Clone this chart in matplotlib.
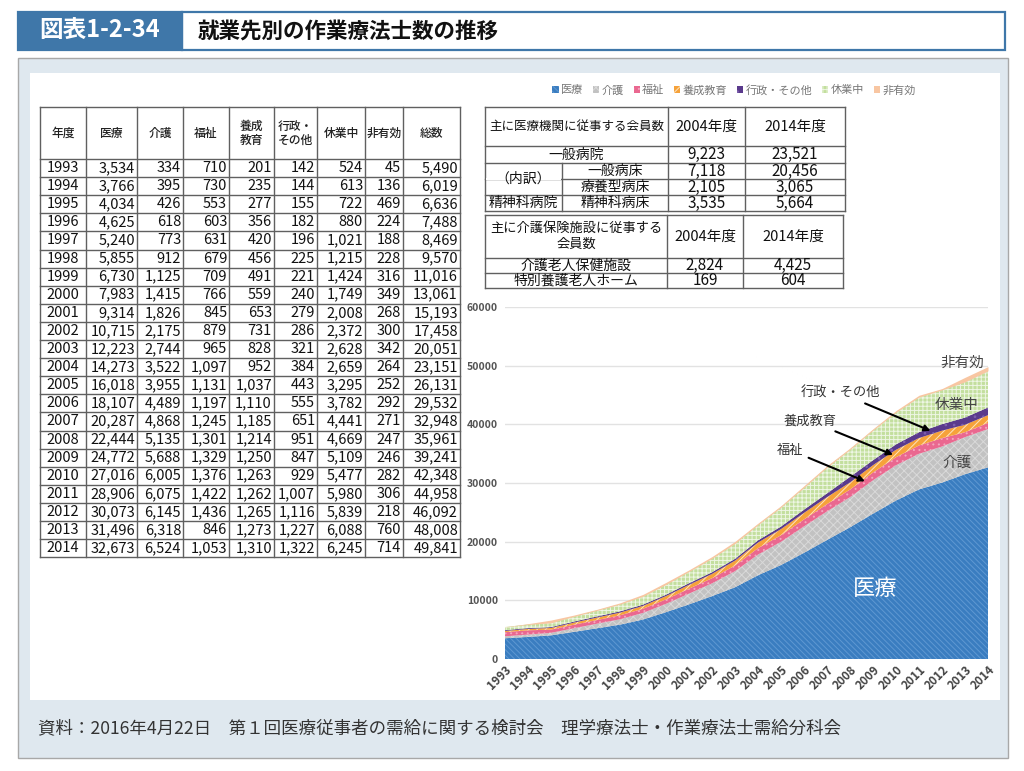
import matplotlib
matplotlib.use("Agg")
import matplotlib.pyplot as plt
from matplotlib.patches import Rectangle
import numpy as np

plt.rcParams['font.family'] = ['Noto Sans CJK JP', 'DejaVu Sans']
plt.rcParams['hatch.linewidth'] = 0.7

# ---------------- data ----------------
years = [1993, 1994, 1995, 1996, 1997, 1998, 1999, 2000, 2001, 2002, 2003,
         2004, 2005, 2006, 2007, 2008, 2009, 2010, 2011, 2012, 2013, 2014]
iryo = [3534, 3766, 4034, 4625, 5240, 5855, 6730, 7983, 9314, 10715, 12223,
        14273, 16018, 18107, 20287, 22444, 24772, 27016, 28906, 30073, 31496, 32673]
kaigo = [334, 395, 426, 618, 773, 912, 1125, 1415, 1826, 2175, 2744,
         3522, 3955, 4489, 4868, 5135, 5688, 6005, 6075, 6145, 6318, 6524]
fukushi = [710, 730, 553, 603, 631, 679, 709, 766, 845, 879, 965,
           1097, 1131, 1197, 1245, 1301, 1329, 1376, 1422, 1436, 846, 1053]
yosei = [201, 235, 277, 356, 420, 456, 491, 559, 653, 731, 828,
         952, 1037, 1110, 1185, 1214, 1250, 1263, 1262, 1265, 1273, 1310]
gyosei = [142, 144, 155, 182, 196, 225, 221, 240, 279, 286, 321,
          384, 443, 555, 651, 951, 847, 929, 1007, 1116, 1227, 1322]
kyugyo = [524, 613, 722, 880, 1021, 1215, 1424, 1749, 2008, 2372, 2628,
          2659, 3295, 3782, 4441, 4669, 5109, 5477, 5980, 5839, 6088, 6245]
hiyuko = [45, 136, 469, 224, 188, 228, 316, 349, 268, 300, 342,
          264, 252, 292, 271, 247, 246, 282, 306, 218, 760, 714]
sosu = [5490, 6019, 6636, 7488, 8469, 9570, 11016, 13061, 15193, 17458, 20051,
        23151, 26131, 29532, 32948, 35961, 39241, 42348, 44958, 46092, 48008, 49841]

series_names = ['医療', '介護', '福祉', '養成教育', '行政・その他', '休業中', '非有効']
table_headers = ['年度', '医療', '介護', '福祉', '養成\n教育', '行政・\nその他', '休業中', '非有効', '総数']

hosp_header = ['主に医療機関に従事する会員数', '2004年度', '2014年度']
hosp_rows = ['一般病院', '一般病床', '療養型病床', '精神科病床']
hosp_group = ['（内訳）', '精神科病院']
hosp_2004 = [9223, 7118, 2105, 3535]
hosp_2014 = [23521, 20456, 3065, 5664]

care_header = ['主に介護保険施設に従事する\n会員数', '2004年度', '2014年度']
care_rows = ['介護老人保健施設', '特別養護老人ホーム']
care_2004 = [2824, 169]
care_2014 = [4425, 604]

title_no = '図表1-2-34'
title = '就業先別の作業療法士数の推移'
source = '資料：2016年4月22日　第１回医療従事者の需給に関する検討会　理学療法士・作業療法士需給分科会'

# ---------------- styles ----------------
face = ['#3a7dc0', '#c2c2c2', '#ea6890', '#f6a23a', '#5a3a8c', '#c3df9e', '#f8c6a2']
hatch_col = ['#5f98d2', '#d9d9d9', '#f4a6bf', '#fde3bf', '#7d5fae', '#eef6e4', '#f8c6a2']
hatches = ['\\\\\\\\\\\\', 'xxxx', '...', '////', '..', '++++', None]

W, H = 1024, 771
fig = plt.figure(figsize=(W / 100, H / 100), dpi=100)
lay = fig.add_axes([0, 0, 1, 1])
lay.set_xlim(0, W)
lay.set_ylim(H, 0)
lay.axis('off')

# background panels
lay.add_patch(Rectangle((18, 58), 990, 700, fc='#dfe8ef', ec='#a8a8a8', lw=1))
lay.add_patch(Rectangle((30, 73), 970, 627, fc='white', ec='none'))
# title bar
lay.add_patch(Rectangle((182, 12), 823, 38, fc='white', ec='#3f77a9', lw=1.6))
lay.add_patch(Rectangle((18, 12), 164, 38, fc='#3f77a9', ec='#3f77a9', lw=1.6))
lay.text(100, 31, title_no, color='white', fontsize=17, fontweight='bold', ha='center', va='center')
lay.text(198, 31, title, color='#111', fontsize=15.5, fontweight='bold', ha='left', va='center')
lay.text(38, 728, source, color='#333', fontsize=12.6, ha='left', va='center')

# ---------------- left table ----------------
lc = '#606060'
col_w = [46, 51, 46, 46, 45, 43, 48, 38, 57]
tx0, ty0 = 40, 107
head_h, row_h = 52, 18.1
col_edges = np.concatenate([[tx0], tx0 + np.cumsum(col_w)])
nrows = len(years)
row_edges = ty0 + head_h + row_h * np.arange(nrows + 1)
ybot = row_edges[-1]
for xe in col_edges:
    lay.plot([xe, xe], [ty0, ybot], color=lc, lw=1.0)
lay.plot([tx0, col_edges[-1]], [ty0, ty0], color=lc, lw=1.0)
for ye in row_edges:
    lay.plot([tx0, col_edges[-1]], [ye, ye], color=lc, lw=1.0)
for j, h in enumerate(table_headers):
    lay.text((col_edges[j] + col_edges[j + 1]) / 2, ty0 + head_h / 2, h,
             fontsize=8.5, fontweight='medium', ha='center', va='center', color='#222', linespacing=1.1)
cols = [iryo, kaigo, fukushi, yosei, gyosei, kyugyo, hiyuko, sosu]
for i, yr in enumerate(years):
    yc = (row_edges[i] + row_edges[i + 1]) / 2
    lay.text((col_edges[0] + col_edges[1]) / 2, yc, str(yr), fontsize=10.5,
             ha='center', va='center', color='#111')
    for j, c in enumerate(cols):
        lay.text(col_edges[j + 2] - 2, yc, f'{c[i]:,}', fontsize=10.5,
                 ha='right', va='center', color='#111')

# ---------------- right table 1 ----------------
x_e = [485, 562, 668, 745, 845]
y_e = [107, 146, 163, 179, 195, 211]
def hl(x1, x2, y):
    lay.plot([x1, x2], [y, y], color=lc, lw=1.0)
def vl(x, y1, y2):
    lay.plot([x, x], [y1, y2], color=lc, lw=1.0)
for y in y_e:
    hl(x_e[0], x_e[-1], y)
vl(x_e[0], y_e[0], y_e[-1]); vl(x_e[2], y_e[0], y_e[-1])
vl(x_e[3], y_e[0], y_e[-1]); vl(x_e[4], y_e[0], y_e[-1])
vl(x_e[1], y_e[2], y_e[-1])
# erase line between 内訳 rows in first column
lay.add_patch(Rectangle((x_e[0] + 0.8, y_e[3] - 1.2), x_e[1] - x_e[0] - 1.6, 2.4, fc='white', ec='none', zorder=3))
lay.text((x_e[0] + x_e[2]) / 2, (y_e[0] + y_e[1]) / 2, hosp_header[0], fontsize=9, ha='center', va='center', color='#111')
for k in (1, 2):
    lay.text((x_e[k + 1] + x_e[k + 2]) / 2, (y_e[0] + y_e[1]) / 2, hosp_header[k], fontsize=10.5, ha='center', va='center', color='#111')
for i, lab in enumerate(hosp_rows):
    yc = (y_e[i + 1] + y_e[i + 2]) / 2
    if i == 0:
        lay.text((x_e[0] + x_e[2]) / 2, yc, lab, fontsize=10, ha='center', va='center', color='#111')
    else:
        lay.text((x_e[1] + x_e[2]) / 2, yc, lab, fontsize=10, ha='center', va='center', color='#111')
    lay.text((x_e[2] + x_e[3]) / 2, yc, f'{hosp_2004[i]:,}', fontsize=11, ha='center', va='center', color='#111')
    lay.text((x_e[3] + x_e[4]) / 2, yc, f'{hosp_2014[i]:,}', fontsize=11, ha='center', va='center', color='#111')
lay.text((x_e[0] + x_e[1]) / 2, y_e[3], hosp_group[0], fontsize=10, ha='center', va='center', color='#111', zorder=4)
lay.text((x_e[0] + x_e[1]) / 2, (y_e[4] + y_e[5]) / 2, hosp_group[1], fontsize=10, ha='center', va='center', color='#111')

# ---------------- right table 2 ----------------
x2 = [485, 667, 743, 843]
y2 = [215, 258, 273, 288]
for y in y2:
    hl(x2[0], x2[-1], y)
for x in x2:
    vl(x, y2[0], y2[-1])
lay.text((x2[0] + x2[1]) / 2, (y2[0] + y2[1]) / 2, care_header[0], fontsize=9.5, ha='center', va='center', color='#111', linespacing=1.25)
for k in (1, 2):
    lay.text((x2[k] + x2[k + 1]) / 2, (y2[0] + y2[1]) / 2, care_header[k], fontsize=10.5, ha='center', va='center', color='#111')
for i, lab in enumerate(care_rows):
    yc = (y2[i + 1] + y2[i + 2]) / 2
    lay.text((x2[0] + x2[1]) / 2, yc, lab, fontsize=10, ha='center', va='center', color='#111')
    lay.text((x2[1] + x2[2]) / 2, yc, f'{care_2004[i]:,}', fontsize=11, ha='center', va='center', color='#111')
    lay.text((x2[2] + x2[3]) / 2, yc, f'{care_2014[i]:,}', fontsize=11, ha='center', va='center', color='#111')

# ---------------- chart ----------------
ax_l, ax_r, ax_t, ax_b = 505, 988, 307, 659
ax = fig.add_axes([ax_l / W, (H - ax_b) / H, (ax_r - ax_l) / W, (ax_b - ax_t) / H])
ax.set_facecolor('none')
xs = np.arange(len(years))
stack = ax.stackplot(xs, iryo, kaigo, fukushi, yosei, gyosei, kyugyo, hiyuko,
                     labels=series_names, zorder=2)
for coll, fc, hc, ht in zip(stack, face, hatch_col, hatches):
    coll.set_facecolor(fc)
    coll.set_edgecolor(hc)
    coll.set_linewidth(0)
    if ht:
        coll.set_hatch(ht)
ax.set_xlim(0, len(years) - 1)
ax.set_ylim(0, 60000)
ax.set_yticks(np.arange(0, 60001, 10000))
ax.set_yticklabels([str(v) for v in range(0, 60001, 10000)], fontsize=7.5,
                   fontweight='bold', color='#555')
ax.set_xticks(xs)
ax.set_xticklabels([str(y) for y in years], rotation=45, ha='right',
                   rotation_mode='anchor', fontsize=8.5, fontweight='bold', color='#444')
ax.tick_params(length=0, pad=5)
ax.tick_params(axis='x', pad=3)
ax.grid(axis='y', color='#e2e2e2', lw=1, zorder=0)
ax.set_axisbelow(True)
for s in ax.spines.values():
    s.set_visible(False)

ax.text(16.1, 12100, '医療', color='white', fontsize=16, ha='center', va='center', zorder=5)
ax.text(19.65, 33400, '介護', color='#444', fontsize=10.5, ha='center', va='center', zorder=5)
ax.text(19.65, 43290, '休業中', color='#444', fontsize=10.5, ha='center', va='center', zorder=5)
ax.text(19.9, 50450, '非有効', color='#444', fontsize=10.5, ha='center', va='center', zorder=5)
arrow = dict(arrowstyle='-|>', color='black', lw=1.5, mutation_scale=9, shrinkA=2, shrinkB=0)
ax.annotate('行政・その他', xy=(18.5, 38900), xytext=(14.57, 45340), fontsize=9.5, color='#333',
            ha='center', va='center', arrowprops=arrow, zorder=5)
ax.annotate('養成教育', xy=(16.87, 34800), xytext=(13.26, 40565), fontsize=9.5, color='#333',
            ha='center', va='center', arrowprops=arrow, zorder=5)
ax.annotate('福祉', xy=(15.65, 30300), xytext=(12.39, 35620), fontsize=9.5, color='#333',
            ha='center', va='center', arrowprops=arrow, zorder=5)

fig.legend(handles=stack, labels=series_names, loc='center', bbox_to_anchor=(734 / W, 1 - 90 / H),
           ncol=7, frameon=False, fontsize=8, labelcolor='#777', handlelength=0.55, handleheight=0.55,
           handletextpad=0.2, columnspacing=0.9, borderaxespad=0)

fig.savefig('out.png', dpi=100)
